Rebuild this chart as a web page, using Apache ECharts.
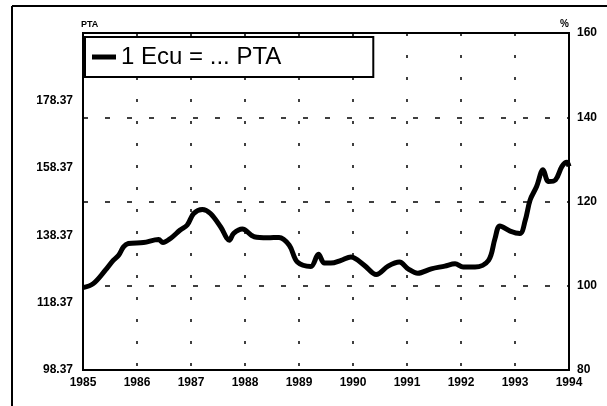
<!DOCTYPE html>
<html><head><meta charset="utf-8">
<script src="https://cdn.jsdelivr.net/npm/echarts@6/dist/echarts.min.js"></script>
<style>html,body{margin:0;padding:0;background:#fff}#c{width:607px;height:406px}</style>
</head><body><div id="c"></div>
<script>
// Data
const seriesName = '1 Ecu = ... PTA';
const years = [1985.0,1985.19,1985.41,1985.56,1985.66,1985.75,1985.84,1986.12,1986.40,1986.48,1986.62,1986.80,1986.93,1987.05,1987.21,1987.36,1987.55,1987.71,1987.79,1987.95,1988.17,1988.42,1988.63,1988.82,1988.97,1989.22,1989.36,1989.47,1989.59,1989.78,1989.96,1990.21,1990.43,1990.65,1990.86,1991.02,1991.20,1991.45,1991.70,1991.89,1992.04,1992.26,1992.51,1992.63,1992.72,1992.91,1993.09,1993.19,1993.28,1993.40,1993.52,1993.62,1993.75,1993.87,1993.96,1994.0];
const pta = [122.8,124.0,127.9,130.9,132.4,134.9,135.9,136.2,137.1,136.2,137.4,139.9,141.4,144.8,146.0,144.8,140.8,136.9,138.9,140.2,137.9,137.6,137.7,135.4,130.4,129.1,132.7,130.1,130.1,130.9,131.9,129.4,126.7,129.2,130.4,128.4,127.1,128.4,129.2,129.9,128.9,128.9,130.9,137.4,141.1,139.6,138.9,142.8,148.8,152.8,157.8,154.3,154.8,158.8,160.0,158.8];
const leftBase = 98.37;
const leftTickStep = 20;
const rightTicks = [80,100,120,140,160];

const chart = echarts.init(document.getElementById('c'));
const font = '"Liberation Sans", Arial, sans-serif';
const lbl = {color:'#000', fontFamily:font, fontWeight:'bold', fontSize:12};
chart.setOption({
  animation:false,
  backgroundColor:'#fff',
  graphic:[
    {type:'line', shape:{x1:12,y1:6,x2:12,y2:406}, style:{stroke:'#000',lineWidth:2}},
    {type:'line', shape:{x1:12,y1:6,x2:607,y2:6}, style:{stroke:'#000',lineWidth:2}}
  ],
  legend:{
    left:85, top:37, orient:'horizontal',
    data:[{name:seriesName, icon:'rect'}],
    itemWidth:24, itemHeight:5,
    backgroundColor:'#fff',
    borderColor:'#000', borderWidth:2,
    padding:[8,92,8,7],
    textStyle:{color:'#000', fontFamily:font, fontSize:24}
  },
  grid:{left:83, right:38, top:33, bottom:36, show:true, borderColor:'#000', borderWidth:2},
  xAxis:{
    type:'value', min:1985, max:1994, interval:1,
    axisLine:{show:true, lineStyle:{color:'#000', width:2}},
    axisTick:{show:false},
    axisLabel:Object.assign({margin:7, formatter:v => String(v)}, lbl),
    splitLine:{show:true, lineStyle:{color:'#000', width:1.5, type:[3,19]}}
  },
  yAxis:[
    {
      type:'value', min:0, max:100, interval:leftTickStep, position:'left',
      name:'PTA', nameLocation:'end', nameGap:4,
      nameTextStyle:Object.assign({}, lbl, {fontSize:9, align:'left', padding:[0,0,0,-2]}),
      axisLine:{show:true, lineStyle:{color:'#000', width:2}},
      axisTick:{show:false},
      axisLabel:Object.assign({margin:10, formatter:v => v >= 100 ? '' : (v + leftBase).toFixed(2)}, lbl),
      splitLine:{show:false}
    },
    {
      type:'value', min:rightTicks[0], max:rightTicks[rightTicks.length-1], interval:20, position:'right',
      name:'%', nameLocation:'end', nameGap:4,
      nameTextStyle:Object.assign({}, lbl, {fontSize:10, align:'right'}),
      axisLine:{show:true, lineStyle:{color:'#000', width:2}},
      axisTick:{show:false},
      axisLabel:Object.assign({margin:8}, lbl),
      splitLine:{show:true, lineStyle:{color:'#000', width:1.5, type:[5,17]}}
    }
  ],
  series:[{
    name:seriesName, type:'line', yAxisIndex:0, smooth:0.35, showSymbol:false,
    lineStyle:{color:'#000', width:5}, itemStyle:{color:'#000'},
    data:years.map((y,i)=>[y, pta[i]-leftBase])
  }]
});
</script></body></html>
